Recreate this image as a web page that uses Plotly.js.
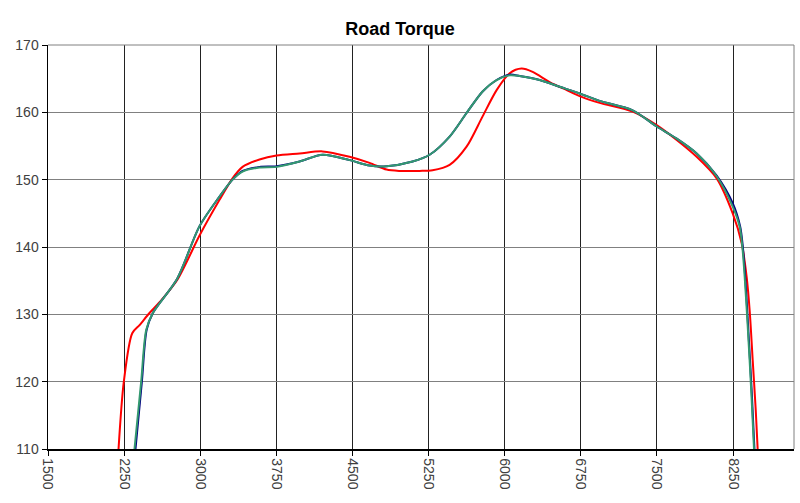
<!DOCTYPE html>
<html>
<head>
<meta charset="utf-8">
<script src="https://cdn.plot.ly/plotly-3.0.1.min.js"></script>
<style>html,body{margin:0;padding:0;background:#fff;}#chart{width:800px;height:503px;}</style>
</head>
<body>
<div id="chart"></div>
<script>
// Red run
const redRpm = [2195, 2247, 2330, 2402, 2500, 2599, 2773, 2993, 3190, 3318, 3417, 3584, 3752, 3979, 4205, 4471, 4668, 4836, 4964, 5161, 5289, 5457, 5624, 5782, 5920, 6048, 6166, 6275, 6442, 6610, 6758, 6935, 7260, 7497, 7694, 7891, 8088, 8246, 8334, 8384, 8413, 8443, 8473, 8492];
const redTq  = [110, 120, 127.2, 128.4, 130.2, 131.8, 135.1, 141.7, 147.0, 150.2, 151.9, 153.0, 153.6, 153.9, 154.2, 153.4, 152.5, 151.5, 151.3, 151.3, 151.4, 152.2, 154.9, 159.4, 163.3, 165.8, 166.5, 166.0, 164.5, 163.3, 162.3, 161.4, 160.1, 158.1, 155.9, 153.4, 150.2, 145.0, 140.6, 135.5, 130.6, 123.2, 115.8, 110];
// Navy run
const blueRpm = [2362, 2425, 2472, 2533, 2773, 2993, 3190, 3318, 3417, 3584, 3752, 3979, 4205, 4471, 4668, 4836, 5092, 5260, 5457, 5624, 5782, 5920, 6048, 6147, 6344, 6541, 6738, 6935, 7260, 7497, 7694, 7891, 8088, 8246, 8320, 8346, 8369, 8398, 8434, 8460];
const blueTq  = [110, 120, 127.7, 130.2, 135.3, 143.1, 147.5, 150.0, 151.3, 151.9, 152.0, 152.7, 153.7, 152.9, 152.1, 152.0, 152.7, 153.7, 156.4, 159.9, 163.1, 164.8, 165.6, 165.4, 164.8, 163.8, 162.8, 161.7, 160.3, 157.9, 156.1, 153.9, 150.6, 146.5, 143.0, 140.0, 135.6, 128.2, 118.3, 110];
// Green run
const greenRpm = [2352, 2418, 2468, 2533, 2773, 2993, 3190, 3318, 3417, 3584, 3752, 3979, 4205, 4471, 4668, 4836, 5092, 5260, 5457, 5624, 5782, 5920, 6048, 6147, 6344, 6541, 6738, 6935, 7260, 7497, 7694, 7891, 8088, 8246, 8315, 8341, 8364, 8394, 8430, 8456];
const greenTq  = [110, 120, 127.7, 130.2, 135.3, 143.1, 147.5, 150.0, 151.2, 151.8, 151.9, 152.7, 153.7, 152.9, 152.1, 152.0, 152.7, 153.7, 156.4, 159.9, 163.1, 164.8, 165.5, 165.4, 164.8, 163.8, 162.8, 161.7, 160.3, 157.9, 156.1, 153.9, 150.5, 146.0, 143.0, 140.0, 135.6, 128.2, 118.3, 110];

const xTicks = [1500, 2250, 3000, 3750, 4500, 5250, 6000, 6750, 7500, 8250];
const yTicks = [110, 120, 130, 140, 150, 160, 170];

const mk = (x, y, color) => ({
  x: x, y: y, type: 'scatter', mode: 'lines',
  line: {color: color, width: 2, shape: 'spline', smoothing: 0.8},
  hoverinfo: 'skip', cliponaxis: true
});

const data = [
  mk(redRpm, redTq, '#FF0000'),
  mk(blueRpm, blueTq, '#000080'),
  mk(greenRpm, greenTq, '#339970')
];

const layout = {
  width: 800, height: 503,
  margin: {l: 48, r: 6, t: 45, b: 54},
  paper_bgcolor: '#fff', plot_bgcolor: '#fff',
  showlegend: false,
  title: {text: '<b>Road Torque</b>', x: 0.5, xref: 'container', xanchor: 'center', y: 0.942, yref: 'container', yanchor: 'middle',
          font: {family: 'Liberation Sans, Arial, sans-serif', size: 18, color: '#000'}},
  font: {family: 'Liberation Sans, Arial, sans-serif', size: 14, color: '#404040'},
  xaxis: {
    range: [1500, 8850], tickvals: xTicks, ticktext: xTicks.map(String),
    tickangle: 90, showgrid: true, gridcolor: '#222', gridwidth: 1,
    zeroline: false, showline: true, linecolor: '#000', linewidth: 1.5,
    ticks: 'outside', ticklen: 5, tickcolor: '#000',
    tickfont: {size: 14, color: '#404040'}
  },
  yaxis: {
    range: [110, 170], tickvals: yTicks, ticktext: yTicks.map(String),
    showgrid: true, gridcolor: '#808080', gridwidth: 1,
    zeroline: false, showline: true, linecolor: '#000', linewidth: 1.5,
    ticks: 'outside', ticklen: 5, tickcolor: '#000',
    tickfont: {size: 14, color: '#404040'}
  },
  shapes: [
    {type: 'line', xref: 'paper', yref: 'paper', x0: 1, x1: 1, y0: 0, y1: 1, line: {color: '#808080', width: 1}},
    {type: 'line', xref: 'paper', yref: 'paper', x0: 0, x1: 1, y0: 1, y1: 1, line: {color: '#808080', width: 1}}
  ]
};

Plotly.newPlot('chart', data, layout, {staticPlot: true, displayModeBar: false});
</script>
</body>
</html>
